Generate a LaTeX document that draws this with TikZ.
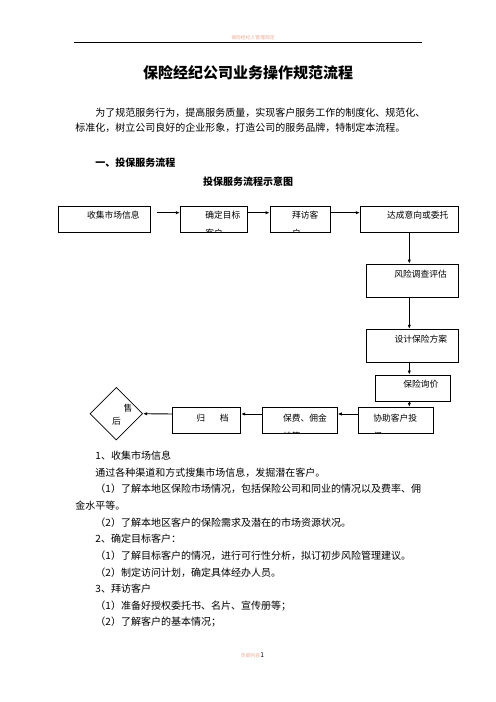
\documentclass[tikz,border=0pt]{standalone}
\usepackage{fontspec}
\setmainfont{Noto Sans CJK SC}
\usetikzlibrary{arrows.meta,shapes.geometric}
\definecolor{hdr}{RGB}{236,170,150}
\tikzset{
  box/.style={draw, line width=0.8pt, inner sep=0pt, minimum height=32pt},
  lbl/.style={draw=none, shape=rectangle, minimum width=0pt, minimum height=0pt, anchor=north west, inner sep=0pt, align=left, font=\fontsize{10.5pt}{22pt}\selectfont},
  intext/.style n args={3}{path picture={\node[lbl] at ([shift={(#1,#2)}]path picture bounding box.north west) {#3};}},
  arr/.style={-{Latex[length=5pt,width=4pt]}, line width=1.1pt},
  body/.style={anchor=west, inner sep=0pt, font=\fontsize{12pt}{14pt}\selectfont},
}
\begin{document}
\begin{tikzpicture}[x=1.2pt, y=-1.2pt]
\useasboundingbox (0,0) rectangle (496,702);
\fill[white] (0,0) rectangle (496,702);
\node[inner sep=0pt, text=hdr, font=\fontsize{5.8pt}{6pt}\selectfont] (header) at (253,37.7) {保险经纪人管理规定};
\draw[line width=0.8pt] (74,42.3) -- (421.7,42.3);
\node[inner sep=0pt, font=\fontsize{18pt}{20pt}\selectfont\bfseries] (title) at (248,72.7) {保险经纪公司业务操作规范流程};
\node[body] (intro1) at (95.3,112.7) {为了规范服务行为，提高服务质量，实现客户服务工作的制度化、规范化、};
\node[body] (intro2) at (75.3,127.7) {标准化，树立公司良好的企业形象，打造公司的服务品牌，特制定本流程。};
\node[body, font=\fontsize{12pt}{14pt}\selectfont\bfseries] (sec1) at (95.3,162.7) {一、投保服务流程};
\node[inner sep=0pt, font=\fontsize{12pt}{14pt}\selectfont\bfseries] (chart) at (248,182) {投保服务流程示意图};

\node[box, minimum width=110.9pt, intext={28.4}{4.6}{收集市场信息}] (collect) at (104.5,219.3) {};
\node[box, minimum width=80.9pt, intext={24.7}{4.6}{确定目标\\客户}] (target) at (214,219.3) {};
\node[box, minimum width=72.4pt, intext={21.7}{4.6}{拜访客\\户}] (visit) at (300.2,219.3) {};
\node[box, minimum width=117.6pt, intext={26.4}{4.6}{达成意向或委托}] (agree) at (409.3,219.3) {};
\node[box, minimum width=110.8pt, minimum height=40pt, intext={28}{5.6}{风险调查评估}] (risk) at (412.2,280.7) {};
\node[box, minimum width=110.8pt, minimum height=39.6pt, intext={28.3}{5.3}{设计保险方案}] (design) at (412.2,345.8) {};
\node[box, minimum width=90.8pt, minimum height=31.6pt, intext={28}{4.6}{保险询价}] (quote) at (412.9,388.2) {};
\node[box, minimum width=90pt, minimum height=31.2pt, intext={14.7}{6.3}{协助客户投\\保}] (assist) at (395.8,420.3) {};
\node[box, minimum width=89.5pt, minimum height=31.2pt, intext={20}{6.3}{保费、佣金\\结算}] (fee) at (300,420.3) {};
\node[box, minimum width=81.6pt, minimum height=31.2pt, intext={23.3}{6.3}{归\hspace{1.7em}档}] (archive) at (206.7,420.3) {};
\node[box, diamond, minimum width=63.2pt, minimum height=63.2pt,
  path picture={
    \node[lbl] at ([shift={(33.1,16.3)}]path picture bounding box.north west) {售};
    \node[lbl] at ([shift={(21.6,29.8)}]path picture bounding box.north west) {后};
  }] (aftersale) at (116.3,413.7) {};

\draw[arr] ([shift={(6.3,-6.6)}]collect.east) -- ([shift={(0,-6.6)}]target.west);
\draw[arr] ([shift={(0,-6.6)}]target.east) -- ([shift={(0,-6.6)}]visit.west);
\draw[arr] ([shift={(0,-6.6)}]visit.east) -- ([shift={(0,-6.6)}]agree.west);
\draw[arr] (agree.south) -- (agree.south |- risk.north);
\draw[arr] (risk.south -| agree.south) -- (design.north -| agree.south);
\draw[arr] (design.south -| agree.south) -- (quote.north -| agree.south);
\draw[arr] (quote.south -| agree.south) -- (assist.north -| agree.south);
\draw[arr] ([shift={(0,-6.3)}]assist.west) -- ([shift={(0,-6.3)}]fee.east);
\draw[arr] ([shift={(0,-6.3)}]fee.west) -- ([shift={(0,-6.3)}]archive.east);
\draw[arr] ([shift={(0,-6.3)}]archive.west) -- (aftersale.east);

\node[body] (s1) at (95.3,455.7) {1、收集市场信息};
\node[body] (s1t) at (95.3,472.7) {通过各种渠道和方式搜集市场信息，发掘潜在客户。};
\node[body] (s1a) at (95.3,489) {（1）了解本地区保险市场情况，包括保险公司和同业的情况以及费率、佣};
\node[body] (s1a2) at (75.3,505.7) {金水平等。};
\node[body] (s1b) at (95.3,522.3) {（2）了解本地区客户的保险需求及潜在的市场资源状况。};
\node[body] (s2) at (95.3,538.7) {2、确定目标客户：};
\node[body] (s2a) at (95.3,555.7) {（1）了解目标客户的情况，进行可行性分析，拟订初步风险管理建议。};
\node[body] (s2b) at (95.3,572.3) {（2）制定访问计划，确定具体经办人员。};
\node[body] (s3) at (95.3,588.7) {3、拜访客户};
\node[body] (s3a) at (95.3,605.7) {（1）准备好授权委托书、名片、宣传册等；};
\node[body] (s3b) at (95.3,622.3) {（2）了解客户的基本情况；};
\node[inner sep=0pt] (footer) at (252.5,655) {\textcolor{hdr}{\fontsize{5.8pt}{6pt}\selectfont 页脚内容}\fontsize{8pt}{9pt}\selectfont 1};
\end{tikzpicture}
\end{document}
